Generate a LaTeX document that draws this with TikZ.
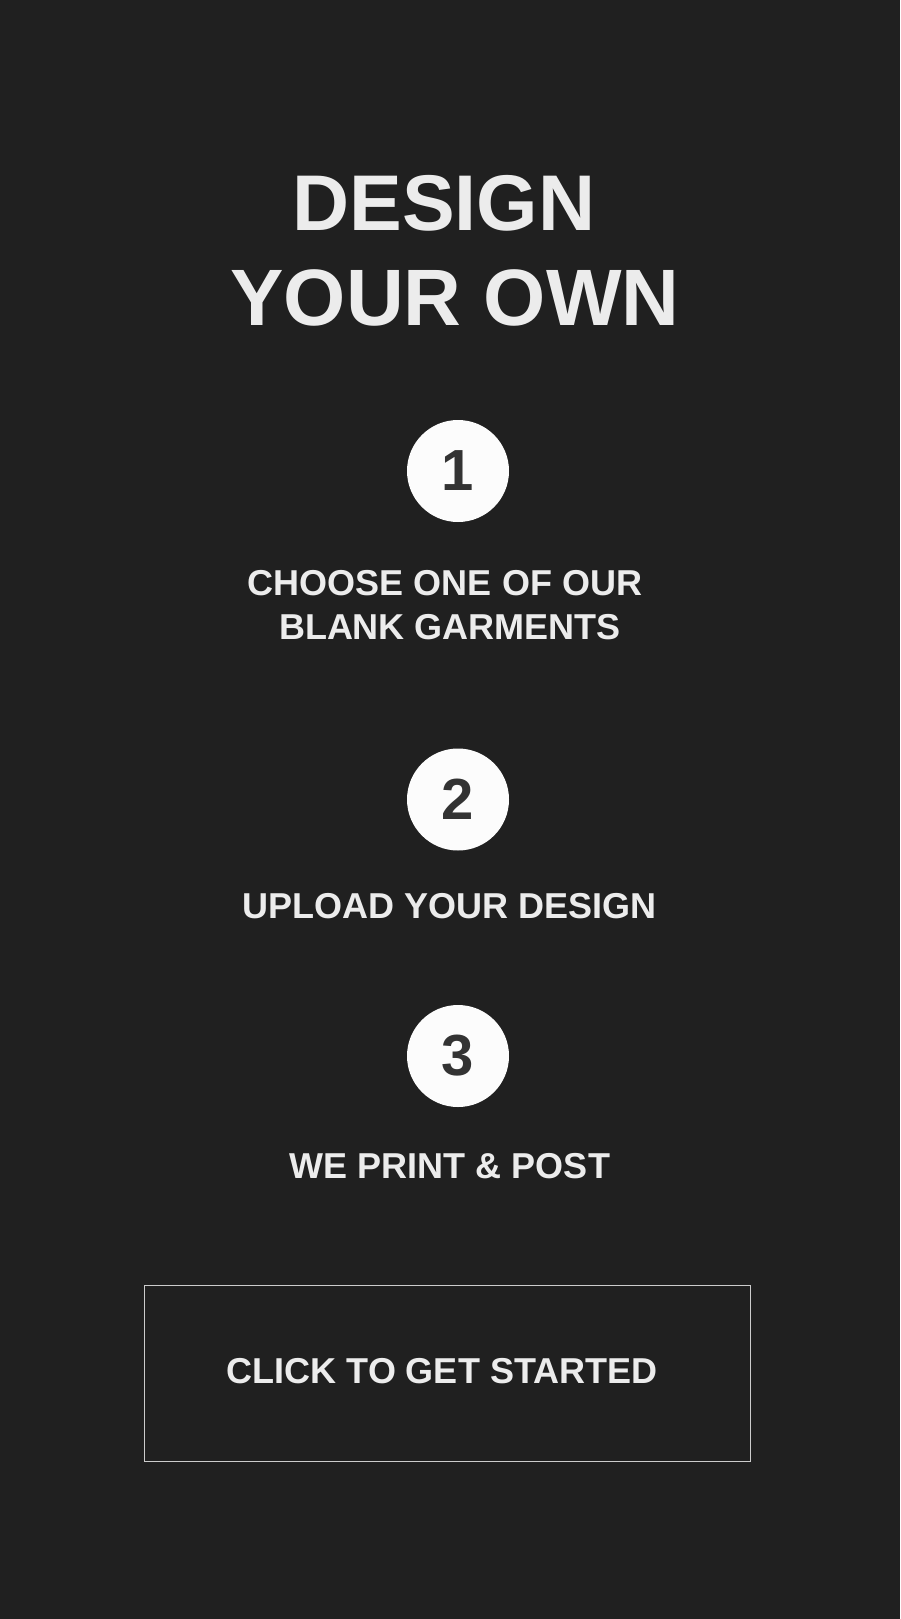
\documentclass[tikz,border=0pt]{standalone}
\usepackage{fontspec}
\setmainfont{Liberation Sans}
\usepackage{tikz}
\usetikzlibrary{positioning,shapes}
\definecolor{pagebg}{HTML}{202020}
\definecolor{lighttext}{HTML}{ECECEC}
\definecolor{digitgray}{HTML}{333333}
\definecolor{framegray}{HTML}{CCCCCC}
\tikzset{
    title/.style={
        anchor=base,
        inner sep=0pt,
        text=lighttext,
        font={\fontsize{79pt}{95}\selectfont\bfseries}
    },
    steplabel/.style={
        anchor=base,
        inner sep=0pt,
        text=lighttext,
        font={\fontsize{36pt}{44}\selectfont\bfseries}
    },
    stepcircle/.style={
        circle,
        fill=white!99!black,
        inner sep=0pt,
        minimum size=102pt,
        text=digitgray,
        font={\fontsize{58pt}{60}\selectfont\bfseries}
    },
    button/.style={
        rectangle,
        draw=framegray, line width=1.2pt,
        minimum width=606pt,
        minimum height=176.5pt
    },
}
\begin{document}
\begin{tikzpicture}[x=1pt, y=-1pt]

\fill [pagebg] (0,0) rectangle (900,1619);
\useasboundingbox (0,0) rectangle (900,1619);

% heading
\node [title] (title-1) at (444,230) {DESIGN};
\node [title, font={\fontsize{80pt}{95}\selectfont\bfseries}] (title-2) at (455,325) {YOUR OWN};

% numbered steps
\foreach \n/\y in {1/471, 2/799.5, 3/1056}
  \node [stepcircle] (step-\n) at (458,\y) {\n};

\node [steplabel] (label-1a) at (445,595) {CHOOSE ONE OF OUR};
\node [steplabel] (label-1b) at (450,639) {BLANK GARMENTS};
\node [steplabel] (label-2) at (450,918) {UPLOAD YOUR DESIGN};
\node [steplabel] (label-3) at (450,1178) {WE PRINT \& POST};

% call to action
\node [button] (start) at (447.4,1373.4) {};
\node [steplabel] (start-text) at (442,1383) {CLICK TO GET STARTED};

\end{tikzpicture}
\end{document}
